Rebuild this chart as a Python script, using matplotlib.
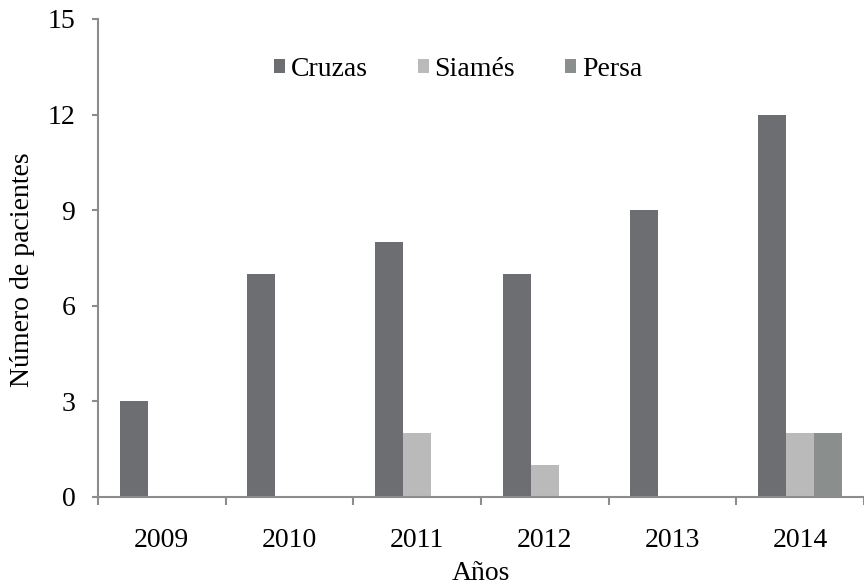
import matplotlib.pyplot as plt
import numpy as np

years = ["2009", "2010", "2011", "2012", "2013", "2014"]
cruzas = [3, 7, 8, 7, 9, 12]
siames = [0, 0, 2, 1, 0, 2]
persa = [0, 0, 0, 0, 0, 2]

plt.rcParams['font.family'] = ['Liberation Serif', 'DejaVu Serif']

fig = plt.figure(figsize=(8.64, 5.88), dpi=100)
ax = fig.add_axes([98 / 864, 91 / 588, 766 / 864, 478 / 588])

x = np.arange(len(years))
w = 0.22
ax.bar(x - w, cruzas, w, color='#6d6e71', label='Cruzas')
ax.bar(x, siames, w, color='#b9bab9', label='Siamés')
ax.bar(x + w, persa, w, color='#8a8f8e', label='Persa')

ax.set_ylim(0, 15)
ax.set_xlim(-0.5, 5.466)
ax.set_yticks([0, 3, 6, 9, 12, 15])
ax.set_xticks(np.arange(-0.5, 6, 1))
ax.set_xticklabels([])
ax.set_xticks(x, minor=True)
ax.set_xticklabels(years, minor=True)
ax.tick_params(axis='x', which='minor', length=0, pad=22, labelsize=20)
ax.tick_params(axis='x', which='major', length=6, width=1.5, color='#8c8c8c')
ax.tick_params(axis='y', length=4.3, width=1.5, color='#8c8c8c', labelsize=20, pad=12)

for s in ['top', 'right']:
    ax.spines[s].set_visible(False)
for s in ['left', 'bottom']:
    ax.spines[s].set_color('#8c8c8c')
    ax.spines[s].set_linewidth(1.5)

ax.set_ylabel("Número de pacientes", fontsize=20)
ax.yaxis.set_label_coords(-0.082, 0.475)
ax.set_xlabel("Años", fontsize=20, labelpad=6)

ax.legend(loc='center', bbox_to_anchor=(0.47, 0.895), ncol=3, frameon=False,
          fontsize=20, handlelength=0.4, handleheight=0.4, handletextpad=0.2,
          columnspacing=1.8)

fig.savefig("out.png", dpi=100)
